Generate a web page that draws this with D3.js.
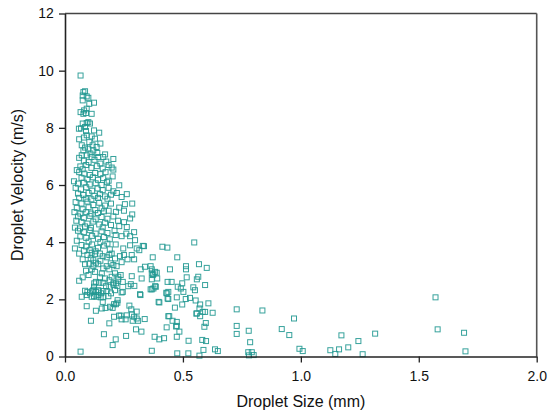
<!DOCTYPE html>
<html><head><meta charset="utf-8">
<script src="https://cdn.jsdelivr.net/npm/d3@7"></script>
<style>body{margin:0;background:#fff}svg{display:block}</style>
</head><body><svg id="c" width="555" height="414"></svg>
<script>
const xTicks = [0, 0.5, 1.0, 1.5, 2.0];
const yTicks = [0, 2, 4, 6, 8, 10, 12];
const xTitle = "Droplet Size (mm)";
const yTitle = "Droplet Velocity (m/s)";
// [size mm, velocity m/s]
const bandTop = [[0.066,9.83],[0.078,9.25],[0.085,9.28],[0.075,9.13],[0.092,9.10],[0.099,9.05],[0.075,8.96],
 [0.103,8.84],[0.123,8.88],[0.066,8.55],[0.081,8.61],[0.089,8.52],[0.113,8.49],[0.092,8.67],[0.078,8.49],
 [0.075,8.15],[0.099,8.20],[0.106,8.15],[0.085,8.03],[0.092,8.17],
 [0.059,7.97],[0.089,7.89],[0.123,7.91],[0.145,7.83],[0.092,7.74],[0.113,7.70],[0.127,7.62],[0.103,7.50],[0.068,7.98],[0.080,7.66],[0.060,7.60],
 [0.071,7.39],[0.085,7.31],[0.117,7.39],[0.134,7.33],[0.078,7.21],[0.099,7.27],[0.120,7.21],[0.137,7.12],[0.071,7.04],[0.092,7.04],[0.150,7.45],[0.108,7.10]];
const bandUpper = [[0.113,6.98],[0.141,6.98],[0.162,6.98],[0.205,6.91],[0.170,7.07],[0.060,6.95],[0.080,6.85],[0.100,6.80],[0.125,6.88],[0.150,6.75],[0.175,6.82],[0.065,6.65],[0.090,6.70],[0.112,6.60],[0.135,6.66],[0.160,6.58],[0.198,6.61],[0.205,6.54],[0.075,6.55],[0.185,6.70],[0.050,6.52],
 [0.202,6.30],[0.060,6.45],[0.082,6.40],[0.105,6.35],[0.128,6.42],[0.150,6.38],[0.172,6.45],[0.070,6.25],[0.095,6.20],[0.118,6.27],[0.140,6.18],[0.162,6.24],[0.185,6.15],[0.038,6.13],[0.055,6.05],[0.080,6.08],[0.105,6.02],[0.130,6.06],[0.155,6.00],[0.178,6.10],[0.230,5.99],
 [0.045,5.90],[0.068,5.85],[0.090,5.92],[0.115,5.80],[0.138,5.88],[0.160,5.82],[0.185,5.90],[0.205,5.78],[0.055,5.70],[0.078,5.65],[0.100,5.72],[0.125,5.62],[0.148,5.68],[0.170,5.60],[0.195,5.66],[0.220,5.72],[0.262,5.68],[0.060,5.55],[0.088,5.52],[0.112,5.50],[0.140,5.55],[0.180,5.52],[0.240,5.58]];
const bandMiddle = [[0.285,5.35],[0.254,5.33],[0.230,5.21],[0.216,5.06],[0.045,5.40],[0.070,5.35],[0.095,5.42],[0.120,5.30],[0.145,5.38],[0.170,5.28],[0.195,5.35],[0.050,5.20],[0.075,5.15],[0.100,5.22],[0.128,5.12],[0.155,5.18],[0.185,5.10],[0.040,5.05],[0.065,5.00],[0.090,5.05],[0.112,5.00],[0.140,5.02],[0.165,5.08],[0.250,5.10],
 [0.285,4.97],[0.276,4.83],[0.230,4.56],[0.262,4.53],[0.042,4.51],[0.064,4.48],[0.055,4.90],[0.080,4.85],[0.105,4.92],[0.130,4.80],[0.155,4.88],[0.180,4.82],[0.205,4.90],[0.070,4.70],[0.095,4.65],[0.120,4.72],[0.145,4.62],[0.170,4.68],[0.195,4.60],[0.225,4.75],[0.085,4.55],[0.110,4.50],[0.160,4.52],[0.250,4.70],[0.048,4.75],
 [0.293,4.35],[0.240,4.21],[0.276,4.21],[0.297,4.07],[0.055,4.40],[0.080,4.35],[0.105,4.42],[0.130,4.30],[0.155,4.38],[0.180,4.32],[0.210,4.40],[0.065,4.20],[0.090,4.15],[0.115,4.22],[0.140,4.12],[0.165,4.18],[0.190,4.10],[0.215,4.25],[0.050,4.05],[0.100,4.02],[0.150,4.00],[0.260,4.30]];
const bandLower = [[0.276,3.89],[0.247,3.78],[0.042,3.78],[0.330,3.87],[0.335,3.86],[0.304,3.78],[0.315,3.72],[0.413,3.84],[0.434,3.81],[0.548,3.99],[0.283,3.55],[0.095,3.55],[0.113,3.63],[0.127,3.58],[0.148,3.60],[0.160,3.51],[0.188,3.55],[0.198,3.60],[0.233,3.51],[0.250,3.55],[0.070,3.90],[0.090,3.85],[0.115,3.92],[0.140,3.80],[0.165,3.88],[0.190,3.75],[0.215,3.92],[0.080,3.70],[0.105,3.72],[0.130,3.68],[0.180,3.95],[0.060,3.60],
 [0.293,3.40],[0.372,3.47],[0.476,3.47],[0.568,3.23],[0.601,3.10],[0.513,3.16],[0.513,3.05],[0.445,3.05],[0.382,2.96],[0.368,3.05],[0.368,2.91],[0.372,2.85],[0.177,3.47],[0.212,3.43],[0.109,3.43],[0.120,3.37],[0.131,3.28],[0.141,3.23],[0.085,3.23],[0.103,3.25],[0.120,3.16],[0.089,3.00],[0.113,3.05],[0.127,2.96],[0.162,3.08],[0.177,3.16],[0.188,3.05],[0.194,3.26],[0.205,3.20],[0.219,3.16],[0.321,3.05],[0.339,3.14],[0.363,3.16],[0.150,3.35],[0.240,3.30],[0.265,3.40],[0.075,3.40],
 [0.391,2.73],[0.368,2.70],[0.516,2.77],[0.565,2.79],[0.559,2.70],[0.435,2.61],[0.452,2.61],[0.497,2.56],[0.594,2.50],[0.375,2.88],[0.389,2.93],[0.283,2.81],[0.325,2.73],[0.075,2.77],[0.148,2.77],[0.170,2.73],[0.188,2.67],[0.198,2.79],[0.212,2.91],[0.236,2.85],[0.226,2.70],[0.226,2.79],[0.245,2.61],[0.156,2.91],[0.160,2.58],[0.145,2.58],[0.131,2.61],[0.124,2.56],[0.205,2.56],[0.279,2.53],[0.216,2.56],[0.206,2.51],[0.294,2.47],[0.100,2.85],[0.060,2.65]];
const bandLow = [[0.478,2.44],[0.491,2.38],[0.502,2.26],[0.544,2.42],[0.551,2.32],[0.382,2.46],[0.368,2.35],[0.431,2.21],[0.438,2.26],[0.438,2.01],[0.474,2.07],[0.512,2.01],[0.530,2.05],[0.385,2.44],[0.375,2.38],[0.363,2.35],[0.320,2.15],[0.318,2.18],[0.174,2.46],[0.188,2.44],[0.222,2.47],[0.240,2.24],[0.268,2.46],[0.085,2.30],[0.106,2.21],[0.120,2.32],[0.123,2.44],[0.141,2.32],[0.131,2.26],[0.095,2.26],[0.116,2.29],[0.143,2.28],[0.162,2.29],[0.177,2.29],[0.212,2.32],[0.245,2.26],[0.071,2.09],[0.092,2.15],[0.113,2.09],[0.123,2.11],[0.141,2.15],[0.153,2.21],[0.162,2.07],[0.184,2.11],[0.195,2.21],[0.151,2.07],[0.134,2.09],[0.430,2.23],[0.435,2.03],
 [0.400,1.89],[0.497,1.82],[0.466,1.71],[0.608,1.86],[0.728,1.65],[0.837,1.61],[0.570,1.68],[0.584,1.56],[0.559,1.51],[0.594,1.56],[0.626,1.53],[0.573,1.82],[0.554,1.96],[0.397,1.91],[0.273,1.78],[0.304,1.57],[0.131,1.60],[0.156,1.68],[0.172,1.70],[0.191,1.74],[0.202,1.70],[0.208,1.83],[0.222,1.88],[0.223,1.97],[0.092,1.76],[0.160,1.91],[0.281,1.65],[0.216,1.83],
 [0.573,1.41],[0.557,1.50],[0.597,1.17],[0.438,1.41],[0.456,1.25],[0.474,1.21],[0.474,1.07],[0.431,1.02],[0.591,1.04],[0.728,1.07],[0.971,1.33],[0.110,1.25],[0.188,1.16],[0.283,1.47],[0.262,1.44],[0.236,1.43],[0.229,1.43],[0.208,1.39],[0.240,1.30],[0.257,1.30],[0.293,1.39],[0.304,1.33],[0.287,1.25],[0.310,1.25],[0.338,1.31],[0.442,1.41],[0.471,1.05]];
const bandBottom = [[0.066,0.17],[0.165,0.78],[0.215,0.60],[0.202,0.40],[0.259,0.72],[0.301,0.95],[0.324,0.87],[0.380,0.69],[0.400,0.60],[0.420,0.64],[0.485,0.87],[0.474,0.69],[0.524,0.55],[0.582,0.58],[0.598,0.54],[0.728,0.79],[0.779,0.90],[0.785,0.50],[0.368,0.20],[0.476,0.11],[0.523,0.11],[0.587,0.23],[0.636,0.25],[0.648,0.19],[0.570,0.03],[0.777,0.15],[0.792,0.15],[0.780,0.04],[0.800,0.05],[0.919,0.96],[0.951,0.75],[0.994,0.27],[1.008,0.19],[1.125,0.22],[1.146,0.09],[1.162,0.25],[1.172,0.74],[1.201,0.32],[1.244,0.54],[1.262,0.08],[1.315,0.80],[1.580,0.95],[1.692,0.83],[1.698,0.18],[1.571,2.07]];

const points = [].concat(bandTop, bandUpper, bandMiddle, bandLower, bandLow, bandBottom);

const svg = d3.select("#c");
const x = d3.scaleLinear().domain([0, 2]).range([65, 536.7]);
const y = d3.scaleLinear().domain([0, 12]).range([356.5, 13.5]);
const font = "'Liberation Sans', Arial, sans-serif";

// frame top/right
svg.append("line").attr("x1", x(0)).attr("x2", x(2)).attr("y1", y(12)).attr("y2", y(12))
  .attr("stroke", "#444").attr("stroke-width", 1.3);
svg.append("line").attr("x1", x(2)).attr("x2", x(2)).attr("y1", y(12)).attr("y2", y(0))
  .attr("stroke", "#555").attr("stroke-width", 1.6);

// points
svg.append("g").selectAll("rect").data(points).join("rect")
  .attr("x", d => x(d[0]) - 2.5).attr("y", d => y(d[1]) - 2.5)
  .attr("width", 5).attr("height", 5)
  .attr("fill", "none").attr("stroke", "#219891").attr("stroke-width", 1).attr("stroke-opacity", 0.9);

const xAxis = svg.append("g").attr("transform", `translate(0,${y(0)})`)
  .call(d3.axisBottom(x).tickValues(xTicks).tickFormat(d3.format(".1f")).tickSize(6).tickSizeOuter(0));
const yAxis = svg.append("g").attr("transform", `translate(${x(0)},0)`)
  .call(d3.axisLeft(y).tickValues(yTicks).tickFormat(d3.format("d")).tickSize(6).tickSizeOuter(0));
[xAxis, yAxis].forEach(g => {
  g.select(".domain").attr("stroke", "#222").attr("stroke-width", 1.6);
  g.selectAll(".tick line").attr("stroke", "#222").attr("stroke-width", 1.3);
  g.selectAll("text").attr("font-family", font).attr("font-size", 14).attr("fill", "#111");
});
xAxis.selectAll("text").attr("dy", "1.1em");
yAxis.selectAll("text").attr("dx", "-0.15em");

svg.append("text").attr("x", x(1)).attr("y", 407).attr("text-anchor", "middle")
  .attr("font-family", font).attr("font-size", 16).attr("fill", "#111").text(xTitle);
svg.append("text").attr("transform", `translate(23,${(y(0)+y(12))/2}) rotate(-90)`).attr("text-anchor", "middle")
  .attr("font-family", font).attr("font-size", 16).attr("fill", "#111").text(yTitle);
</script></body></html>
